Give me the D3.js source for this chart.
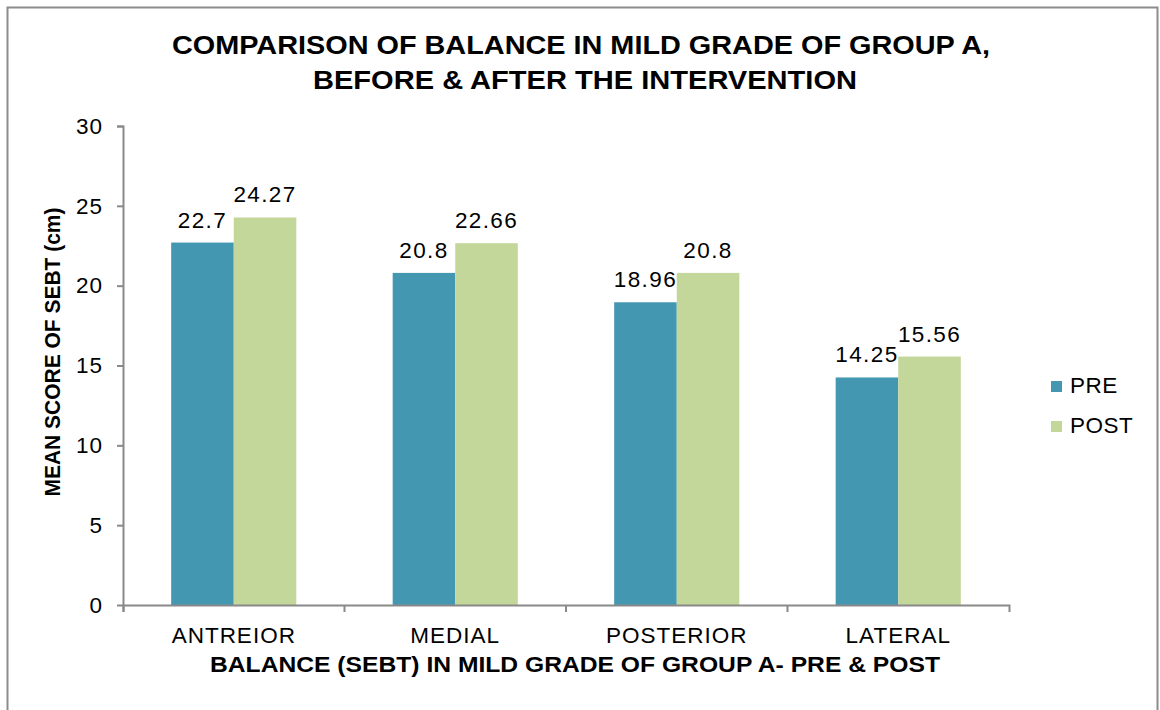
<!DOCTYPE html>
<html>
<head>
<meta charset="utf-8">
<script src="https://cdn.jsdelivr.net/npm/d3@7"></script>
<style>
  body { margin: 0; background: #fff; }
  text { font-family: "Liberation Sans", Arial, sans-serif; fill: #000; }
  .axis path, .axis line { stroke: #898989; stroke-width: 2; }
</style>
</head>
<body>
<div id="chart"></div>
<script>
// chart data
var categories = ["ANTREIOR", "MEDIAL", "POSTERIOR", "LATERAL"];
var seriesNames = ["PRE", "POST"];
var preValues = [22.7, 20.8, 18.96, 14.25];
var postValues = [24.27, 22.66, 20.8, 15.56];
var yTicks = [0, 5, 10, 15, 20, 25, 30];
var colors = ["#4397B0", "#C4D79B"];

var svgWidth = 1160;
var svgHeight = 710;

var chartMargin = { top: 126, left: 123, bottom: 105, right: 151 };
var chartWidth = svgWidth - chartMargin.left - chartMargin.right;
var chartHeight = svgHeight - chartMargin.top - chartMargin.bottom;

var svg = d3.select("#chart").append("svg")
  .attr("width", svgWidth)
  .attr("height", svgHeight);

// outer frame
svg.append("rect")
  .attr("x", 7.5).attr("y", 7.5)
  .attr("width", 1150).attr("height", 720)
  .attr("fill", "none")
  .attr("stroke", "#8c8c8c")
  .attr("stroke-width", 2);

var chartGroup = svg.append("g")
  .attr("transform", `translate(${chartMargin.left}, ${chartMargin.top})`);

var rows = categories.map(function(c, i) {
  return { cat: c, values: [preValues[i], postValues[i]] };
});

var x0 = d3.scaleBand().domain(categories).range([0, chartWidth]);
var x1 = d3.scaleBand().domain(seriesNames).range([0, x0.bandwidth()])
  .paddingInner(0).paddingOuter(0.77);
var y = d3.scaleLinear().domain([0, 30]).range([chartHeight, 0]);

// bars
var groups = chartGroup.selectAll(".grp").data(rows).enter().append("g")
  .attr("transform", d => `translate(${x0(d.cat)},0)`);

groups.selectAll("rect")
  .data(d => d.values.map((v, j) => ({ s: seriesNames[j], v: v, j: j })))
  .enter().append("rect")
  .attr("x", d => x1(d.s))
  .attr("y", d => y(d.v))
  .attr("width", x1.bandwidth())
  .attr("height", d => chartHeight - y(d.v))
  .attr("fill", d => colors[d.j]);

groups.selectAll(".lbl")
  .data(d => d.values.map((v, j) => ({ s: seriesNames[j], v: v })))
  .enter().append("text")
  .attr("x", d => x1(d.s) + x1.bandwidth() / 2)
  .attr("y", d => y(d.v) - 15)
  .attr("text-anchor", "middle")
  .style("font-size", "22.5px")
  .style("letter-spacing", "1.4px")
  .text(d => d.v);

// y axis
var leftAxis = d3.axisLeft(y).tickValues(yTicks).tickSize(6).tickPadding(14);
var yAxisG = chartGroup.append("g").classed("axis", true).call(leftAxis);
yAxisG.select(".domain").attr("d", `M-6,0.5H0.5V${chartHeight + 7}`);
yAxisG.selectAll("text").style("font-size", "22.5px").style("letter-spacing", "1px").attr("fill", "#000");

// x axis
var bottomAxis = d3.axisBottom(x0).tickSize(0).tickSizeOuter(7).tickPadding(22);
var xAxisG = chartGroup.append("g").classed("axis", true)
  .attr("transform", `translate(0, ${chartHeight})`)
  .call(bottomAxis);
xAxisG.selectAll("text").style("font-size", "22.5px").style("letter-spacing", "1px").attr("fill", "#000");
xAxisG.selectAll(".sep").data(categories.slice(1)).enter().append("line")
  .attr("x1", d => x0(d)).attr("x2", d => x0(d))
  .attr("y1", 0).attr("y2", 7);

// titles
var title = svg.append("text")
  .attr("text-anchor", "middle")
  .style("font-size", "26px")
  .style("font-weight", "bold");
title.append("tspan").attr("x", 581).attr("y", 54)
  .attr("textLength", 818).attr("lengthAdjust", "spacingAndGlyphs")
  .text("COMPARISON OF BALANCE IN MILD GRADE OF GROUP A,");
title.append("tspan").attr("x", 585).attr("y", 89)
  .attr("textLength", 544).attr("lengthAdjust", "spacingAndGlyphs")
  .text("BEFORE & AFTER THE INTERVENTION");

svg.append("text")
  .attr("x", 575).attr("y", 672)
  .attr("text-anchor", "middle")
  .attr("textLength", 730).attr("lengthAdjust", "spacingAndGlyphs")
  .style("font-size", "22px")
  .style("font-weight", "bold")
  .text("BALANCE (SEBT) IN MILD GRADE OF GROUP A- PRE & POST");

svg.append("text")
  .attr("transform", "translate(60, 352) rotate(-90)")
  .attr("text-anchor", "middle")
  .attr("textLength", 289).attr("lengthAdjust", "spacingAndGlyphs")
  .style("font-size", "22px")
  .style("font-weight", "bold")
  .text("MEAN SCORE OF SEBT (cm)");

// legend
var legend = svg.selectAll(".legend").data(seriesNames).enter().append("g")
  .attr("transform", (d, i) => `translate(1051, ${381 + i * 40})`);
legend.append("rect")
  .attr("width", 11).attr("height", 11)
  .attr("fill", (d, i) => colors[i]);
legend.append("text")
  .attr("x", 19).attr("y", 12)
  .style("font-size", "22.5px")
  .style("letter-spacing", "0.5px")
  .text(d => d);
</script>
</body>
</html>
